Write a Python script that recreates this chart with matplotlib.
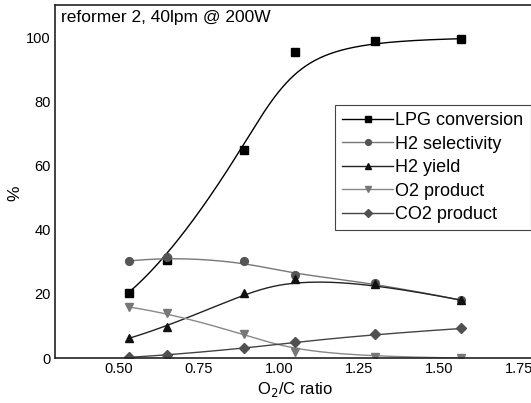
import numpy as np
import matplotlib
matplotlib.use('Agg')
import matplotlib.pyplot as plt

plt.rcParams['font.family'] = ['Liberation Sans', 'DejaVu Sans']

# razao O2/C medida
o2c = [0.53, 0.65, 0.89, 1.05, 1.30, 1.57]

lpg_conv = [20.4, 30.6, 64.8, 95.4, 98.8, 99.5]
h2_sel = [30.2, 31.5, 30.2, 25.8, 23.4, 18.0]
h2_yield = [6.1, 9.7, 20.1, 24.7, 23.2, 18.0]
o2_prod = [15.9, 14.1, 7.5, 2.0, 0.4, 0.0]
co2_prod = [0.2, 0.9, 3.0, 4.9, 7.4, 9.2]

x_ticks = [0.50, 0.75, 1.00, 1.25, 1.50, 1.75]
y_ticks = [0, 20, 40, 60, 80, 100]


# curva B-spline cubica (pontos de controle = pontos medidos)
def bspline(xs, ys, n=300, k=3):
    pts = np.column_stack([xs, ys])
    m = len(pts)
    inner = np.linspace(0, 1, m - k + 1)[1:-1]
    t = np.concatenate([np.zeros(k + 1), inner, np.ones(k + 1)])
    u = np.linspace(0, 1, n)
    u[-1] -= 1e-9
    # base de grau 0
    B = np.zeros((n, len(t) - 1))
    for i in range(len(t) - 1):
        B[:, i] = (u >= t[i]) & (u < t[i + 1])
    for d in range(1, k + 1):
        Bn = np.zeros((n, len(t) - 1 - d))
        for i in range(len(t) - 1 - d):
            a = t[i + d] - t[i]
            b = t[i + d + 1] - t[i + 1]
            if a > 0:
                Bn[:, i] += (u - t[i]) / a * B[:, i]
            if b > 0:
                Bn[:, i] += (t[i + d + 1] - u) / b * B[:, i + 1]
        B = Bn
    curva = B @ pts
    return curva[:, 0], curva[:, 1]


fig = plt.figure(figsize=(5.31, 4.03), dpi=100)
ax = fig.add_axes([55 / 531, 45 / 403, 480 / 531, 353 / 403])

# (valores, nome, marcador, tamanho, cor do marcador, cor da linha)
series = [
    (lpg_conv, 'LPG conversion', 's', 5.2, 'black', 'black'),
    (h2_sel, 'H2 selectivity', 'o', 5.6, '#555555', '#777777'),
    (h2_yield, 'H2 yield', '^', 6.2, '#111111', '#222222'),
    (o2_prod, 'O2 product', 'v', 6.2, '#777777', '#888888'),
    (co2_prod, 'CO2 product', 'D', 5.0, '#505050', '#444444'),
]

for ys, nome, mk, ms, cor_m, cor_l in series:
    cx, cy = bspline(o2c, ys)
    ax.plot(cx, cy, color=cor_l, lw=1.0)
    ax.plot(o2c, ys, linestyle='none', marker=mk, color=cor_m, ms=ms)
    # so para a legenda
    ax.plot([], [], color=cor_l, lw=1.0, marker=mk, mfc=cor_m, mec=cor_m,
            ms=ms * 0.75, label=nome)

ax.set_xlim(0.3, 1.8)
ax.set_ylim(0, 110)
ax.set_xticks(x_ticks)
ax.set_xticklabels(['%.2f' % v for v in x_ticks])
ax.set_yticks(y_ticks)
ax.tick_params(length=0, labelsize=10.5, pad=3)

for s in ['left', 'top', 'bottom', 'right']:
    ax.spines[s].set_linewidth(1.2)
    ax.spines[s].set_color('#222222')

ax.set_xlabel('O$_2$/C ratio', fontsize=12, labelpad=3)
ax.set_ylabel('%', fontsize=12.5)
ax.yaxis.set_label_coords(-0.068, 0.467)
ax.text(0.012, 0.985, 'reformer 2, 40lpm @ 200W', transform=ax.transAxes,
        fontsize=12.5, va='top', ha='left')

leg = ax.legend(loc='upper left', bbox_to_anchor=(335 / 531, 1 - 105 / 403),
                bbox_transform=fig.transFigure, fontsize=13, frameon=True,
                fancybox=False, framealpha=1, edgecolor='#444444',
                handlelength=2.8, handletextpad=0.15, labelspacing=0.36,
                borderpad=0.4, borderaxespad=0)
leg.get_frame().set_linewidth(0.8)

fig.savefig('out.png', dpi=100)
